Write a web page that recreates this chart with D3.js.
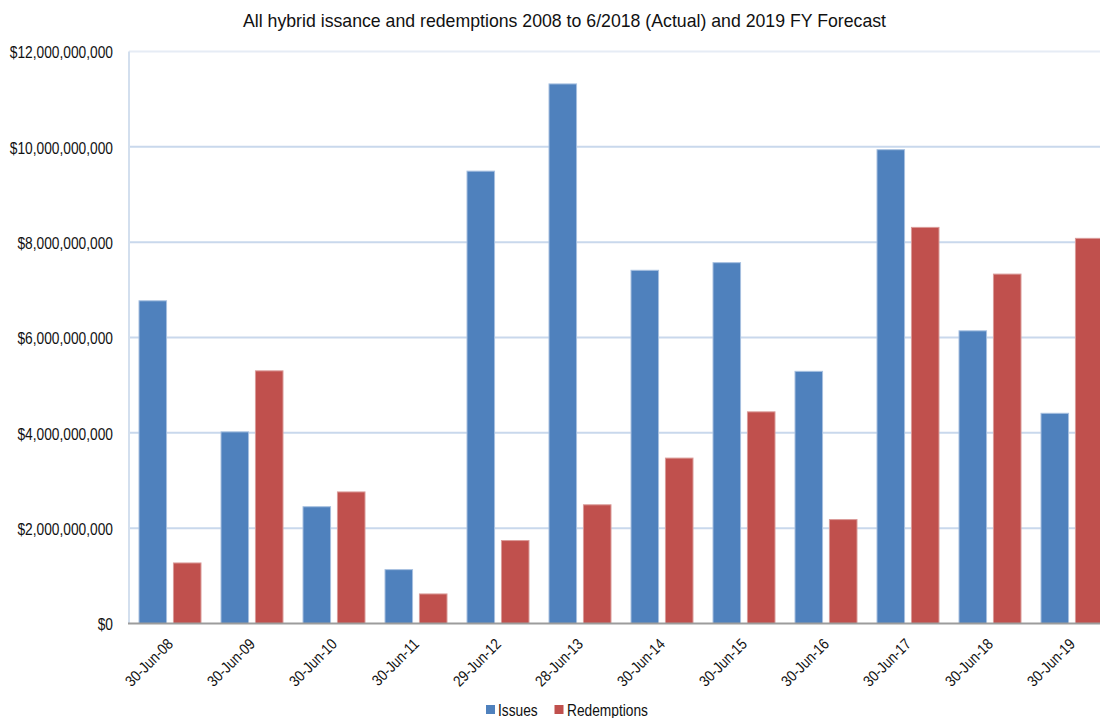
<!DOCTYPE html>
<html>
<head>
<meta charset="utf-8">
<script src="https://cdn.jsdelivr.net/npm/d3@7/dist/d3.min.js"></script>
<style>
  html, body { margin: 0; padding: 0; background: #fff; overflow: hidden; }
  svg { display: block; font-family: "Liberation Sans", Arial, sans-serif; }
</style>
</head>
<body>
<svg id="chart" width="1100" height="718"></svg>
<script>
// Fiscal year end dates
const categories = ["30-Jun-08", "30-Jun-09", "30-Jun-10", "30-Jun-11", "29-Jun-12", "28-Jun-13",
                    "30-Jun-14", "30-Jun-15", "30-Jun-16", "30-Jun-17", "30-Jun-18", "30-Jun-19"];
// Hybrid issuance per year (AUD)
const issues = [6.77e9, 4.02e9, 2.45e9, 1.13e9, 9.49e9, 11.32e9, 7.41e9, 7.57e9, 5.29e9, 9.94e9, 6.14e9, 4.41e9];
// Hybrid redemptions per year (AUD)
const redemptions = [1.27e9, 5.30e9, 2.76e9, 0.62e9, 1.74e9, 2.49e9, 3.47e9, 4.44e9, 2.18e9, 8.31e9, 7.33e9, 8.08e9];
const seriesNames = ["Issues", "Redemptions"];
const yTicks = [0, 2e9, 4e9, 6e9, 8e9, 10e9, 12e9];
const title = "All hybrid issance and redemptions 2008 to 6/2018 (Actual) and 2019 FY Forecast";

const colors = { Issues: "#4F81BD", Redemptions: "#C0504D" };
const edges = { Issues: "#A7C0E0", Redemptions: "#DA9A98" };

const svg = d3.select("#chart");
const plot = { left: 129, top: 51.5, bottom: 623.5 };

const x0 = d3.scaleBand().domain(categories).range([plot.left, plot.left + 82 * categories.length]);
const x1 = d3.scaleBand().domain(seriesNames).range([10, 72]).paddingInner(0.2);
const y = d3.scaleLinear().domain([0, 12e9]).range([plot.bottom, plot.top]);
const fmt = v => v === 0 ? "$0" : "$" + d3.format(",")(v);

// Horizontal gridlines
svg.append("g").selectAll("line").data(yTicks.filter(t => t > 0)).join("line")
  .attr("x1", plot.left).attr("x2", 1100)
  .attr("y1", d => y(d)).attr("y2", d => y(d))
  .attr("stroke", d => d === 12e9 ? "#E6ECF5" : "#C9D8EC")
  .attr("stroke-width", 2);

// Left axis line
svg.append("line").attr("x1", plot.left).attr("x2", plot.left)
  .attr("y1", plot.top).attr("y2", plot.bottom)
  .attr("stroke", "#D3DFEE").attr("stroke-width", 2);

// Y tick labels (narrow lettering)
svg.append("g").selectAll("g").data(yTicks).join("g")
  .attr("transform", d => `translate(113,${y(d) + 6.8}) scale(0.86,1)`)
  .append("text")
  .attr("text-anchor", "end").attr("font-size", 16).attr("fill", "#111")
  .text(fmt);

// Bars
const rows = categories.map((c, i) => ({ cat: c, Issues: issues[i], Redemptions: redemptions[i] }));
const groups = svg.append("g")
  .selectAll("g").data(rows).join("g")
  .attr("transform", d => `translate(${x0(d.cat)},0)`);
groups.selectAll("rect").data(d => seriesNames.map(s => ({ s, v: d[s] }))).join("rect")
  .attr("x", d => x1(d.s))
  .attr("width", x1.bandwidth())
  .attr("y", d => y(d.v))
  .attr("height", d => y(0) - y(d.v))
  .attr("fill", d => colors[d.s])
  .attr("stroke", d => edges[d.s])
  .attr("stroke-width", 1);

// Bottom axis line
svg.append("line").attr("x1", plot.left - 1).attr("x2", 1100)
  .attr("y1", plot.bottom).attr("y2", plot.bottom)
  .attr("stroke", "#9C9C9C").attr("stroke-width", 2);

// X tick labels, rotated
svg.append("g").selectAll("g").data(categories).join("g")
  .attr("transform", d => `translate(${x0(d) + x0.bandwidth() / 2 + 4},645) rotate(-45) scale(0.86,1)`)
  .append("text")
  .attr("text-anchor", "end").attr("font-size", 15.5).attr("fill", "#111")
  .text(d => d);

// Title
svg.append("text")
  .attr("x", 564.5).attr("y", 27)
  .attr("text-anchor", "middle").attr("font-size", 19).attr("fill", "#111")
  .attr("textLength", 643).attr("lengthAdjust", "spacingAndGlyphs")
  .text(title);

// Legend
const legendItems = [
  { name: "Issues", sx: 486, tx: 498 },
  { name: "Redemptions", sx: 554.5, tx: 567 }
];
const lg = svg.append("g");
lg.selectAll("rect").data(legendItems).join("rect")
  .attr("x", d => d.sx).attr("y", 705).attr("width", 9).attr("height", 9)
  .attr("fill", d => colors[d.name]);
lg.selectAll("g").data(legendItems).join("g")
  .attr("transform", d => `translate(${d.tx},715.8) scale(0.86,1)`)
  .append("text").attr("font-size", 16).attr("fill", "#111")
  .text(d => d.name);
</script>
</body>
</html>
